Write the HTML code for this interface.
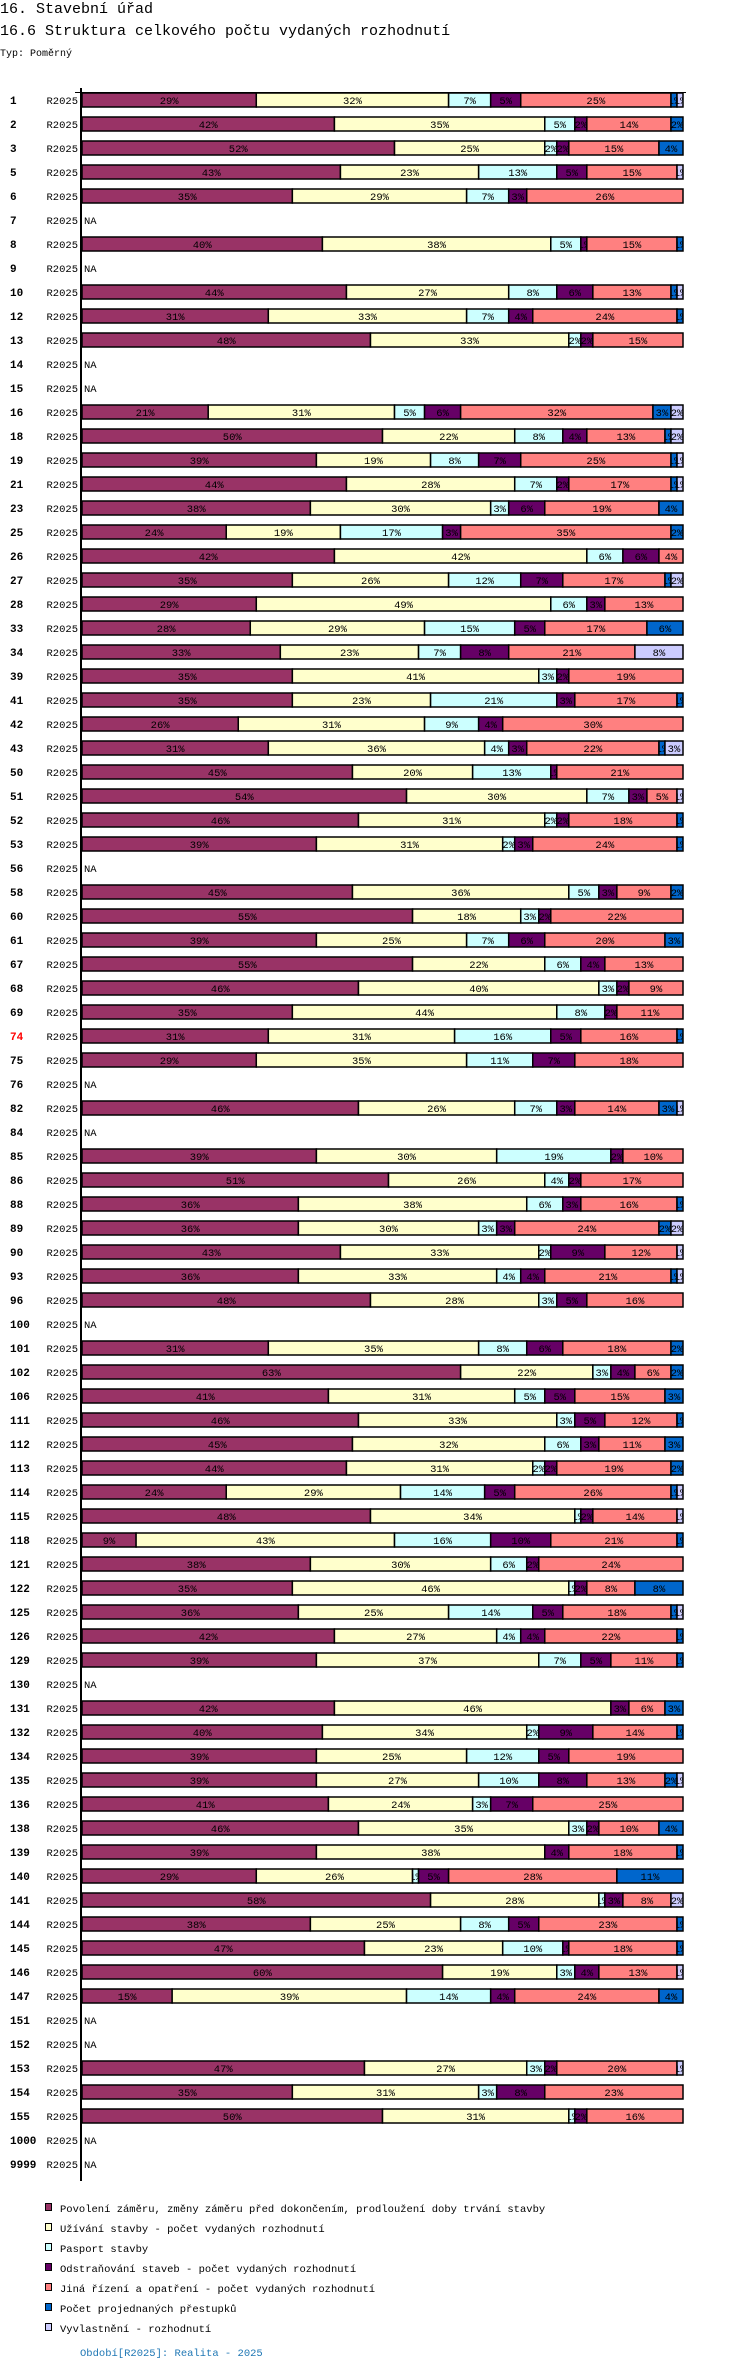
<!DOCTYPE html>
<html><head><meta charset="utf-8">
<style>
html,body{margin:0;padding:0;background:#fff;}
svg{display:block;font-family:"Liberation Mono","DejaVu Sans Mono",monospace;}
</style></head>
<body>
<svg id="chart" width="750" height="2370" viewBox="0 0 750 2370" xmlns="http://www.w3.org/2000/svg">
<text x="0" y="13" font-size="15" fill="#000">16. Stavební úřad</text>
<text x="0" y="35" font-size="15" fill="#000">16.6 Struktura celkového počtu vydaných rozhodnutí</text>
<text x="0" y="56" font-size="10" fill="#000">Typ: Poměrný</text>
<g id="bars"></g>
<g id="legend"></g>
<text x="80" y="2356" font-size="10.5" fill="#1f77b4">Období[R2025]: Realita - 2025</text>
</svg>
<script>
const categories = ["1","2","3","5","6","7","8","9","10","12","13","14","15","16","18","19","21","23","25","26","27","28","33","34","39","41","42","43","50","51","52","53","56","58","60","61","67","68","69","74","75","76","82","84","85","86","88","89","90","93","96","100","101","102","106","111","112","113","114","115","118","121","122","125","126","129","130","131","132","134","135","136","138","139","140","141","144","145","146","147","151","152","153","154","155","1000","9999"];
const povoleni = [29,42,52,43,35,null,40,null,44,31,48,null,null,21,50,39,44,38,24,42,35,29,28,33,35,35,26,31,45,54,46,39,null,45,55,39,55,46,35,31,29,null,46,null,39,51,36,36,43,36,48,null,31,63,41,46,45,44,24,48,9,38,35,36,42,39,null,42,40,39,39,41,46,39,29,58,38,47,60,15,null,null,47,35,50,null,null];
const uzivani = [32,35,25,23,29,null,38,null,27,33,33,null,null,31,22,19,28,30,19,42,26,49,29,23,41,23,31,36,20,30,31,31,null,36,18,25,22,40,44,31,35,null,26,null,30,26,38,30,33,33,28,null,35,22,31,33,32,31,29,34,43,30,46,25,27,37,null,46,34,25,27,24,35,38,26,28,25,23,19,39,null,null,27,31,31,null,null];
const pasport = [7,5,2,13,7,null,5,null,8,7,2,null,null,5,8,8,7,3,17,6,12,6,15,7,3,21,9,4,13,7,2,2,null,5,3,7,6,3,8,16,11,null,7,null,19,4,6,3,2,4,3,null,8,3,5,3,6,2,14,1,16,6,1,14,4,7,null,0,2,12,10,3,3,0,1,1,8,10,3,14,null,null,3,3,1,null,null];
const odstranovani = [5,2,2,5,3,null,1,null,6,4,2,null,null,6,4,7,2,6,3,6,7,3,5,8,2,3,4,3,1,3,2,3,null,3,2,6,4,2,2,5,7,null,3,null,2,2,3,3,9,4,5,null,6,4,5,5,3,2,5,2,10,2,2,5,4,5,null,3,9,5,8,7,2,4,5,3,5,1,4,4,null,null,2,8,2,null,null];
const jina = [25,14,15,15,26,null,15,null,13,24,15,null,null,32,13,25,17,19,35,4,17,13,17,21,19,17,30,22,21,5,18,24,null,9,22,20,13,9,11,16,18,null,14,null,10,17,16,24,12,21,16,null,18,6,15,12,11,19,26,14,21,24,8,18,22,11,null,6,14,19,13,25,10,18,28,8,23,18,13,24,null,null,20,23,16,null,null];
const prestupky = [1,2,4,0,0,null,1,null,1,1,0,null,null,3,1,1,1,4,2,0,1,0,6,0,0,1,0,1,0,0,1,1,null,2,0,3,0,0,0,1,0,null,3,null,0,0,1,2,0,1,0,null,2,2,3,1,3,2,1,0,1,0,8,1,1,1,null,3,1,0,2,0,4,1,11,0,1,1,0,4,null,null,0,0,0,null,null];
const vyvlastneni = [1,0,0,1,0,null,0,null,1,0,0,null,null,2,2,1,1,0,0,0,2,0,0,8,0,0,0,3,0,1,0,0,null,0,0,0,0,0,0,0,0,null,1,null,0,0,0,2,1,1,0,null,0,0,0,0,0,0,1,1,0,0,0,1,0,0,null,0,0,0,1,0,0,0,0,2,0,0,1,0,null,null,1,0,0,null,null];
const seriesNames = ["Povolení záměru,  změny záměru před dokončením, prodloužení doby trvání stavby","Užívání stavby - počet vydaných rozhodnutí","Pasport stavby","Odstraňování staveb - počet vydaných rozhodnutí","Jiná řízení a opatření - počet vydaných rozhodnutí","Počet projednaných přestupků","Vyvlastnění - rozhodnutí"];
const seriesColors = ["#993366","#FFFFCC","#CCFFFF","#660066","#FF8080","#0066CC","#CCCCFF"];
const allSeries = [povoleni, uzivani, pasport, odstranovani, jina, prestupky, vyvlastneni];

const NS = "http://www.w3.org/2000/svg";
const X0 = 82, X1 = 683, TOP0 = 93, PITCH = 24, BAR_H = 14;
function xScale(v){ return (X1 - X0) * v / 100; }
function yScale(i){ return TOP0 + PITCH * i; }
function mk(tag, attrs){ const e = document.createElementNS(NS, tag); for (const k in attrs) e.setAttribute(k, attrs[k]); return e; }

const bars = document.getElementById('bars');
// axis
const axis = mk('line', {x1:81, y1:88, x2:81, y2:2181, stroke:'#000', 'stroke-width':2});


bars.appendChild(axis);
const topTick = mk('line', {x1:75, y1:92.5, x2:686, y2:92.5, stroke:'#000', 'stroke-width':1});


bars.appendChild(topTick);

categories.forEach((cat, i) => {
  const top = yScale(i);
  const cy = top + BAR_H / 2;
  const lab = mk('text', {x:10, y:cy + 4, 'font-size':11, 'font-weight':'bold', fill: cat === '74' ? '#ff0000' : '#000'});
  lab.textContent = cat;
  
  
  bars.appendChild(lab);
  const per = mk('text', {x:78, y:cy + 4, 'font-size':10.5, 'text-anchor':'end', fill:'#000'});
  per.textContent = 'R2025';
  
  
  bars.appendChild(per);
  const vals = allSeries.map(s => s[i]);
  if (vals[0] === null) {
    const na = mk('text', {x:84, y:cy + 4, 'font-size':10.5, fill:'#000'});
    na.textContent = 'NA';
    
    
    bars.appendChild(na);
    return;
  }
  const sum = vals.reduce((a, b) => a + (b || 0), 0);
  let acc = 0;
  vals.forEach((v, s) => {
    if (!v) return;
    const x = X0 + xScale(acc * 100 / sum);
    const w = xScale(v * 100 / sum);
    acc += v;
    const r = mk('rect', {x:x, y:top, width:w, height:BAR_H, fill:seriesColors[s], stroke:'#000', 'stroke-width':1.5});
    
    
    bars.appendChild(r);
    const clip = mk('svg', {x:x, y:top, width:w, height:BAR_H, overflow:'hidden'});
    const t = mk('text', {x:w / 2, y:BAR_H / 2 + 4, 'font-size':10.5, 'text-anchor':'middle', fill:'#000'});
    t.textContent = v + '%';
    
    
    clip.appendChild(t);
    bars.appendChild(clip);
  });
});

const legend = document.getElementById('legend');
seriesNames.forEach((name, s) => {
  const y = 2208 + s * 20;
  const sq = mk('rect', {x:45.5, y:y - 4.5, width:6, height:7, fill:seriesColors[s], stroke:'#000', 'stroke-width':1});
  
  
  legend.appendChild(sq);
  const t = mk('text', {x:60, y:y + 4, 'font-size':10.5, fill:'#000'});
  t.textContent = name;
  
  
  legend.appendChild(t);
});
</script>
</body></html>
